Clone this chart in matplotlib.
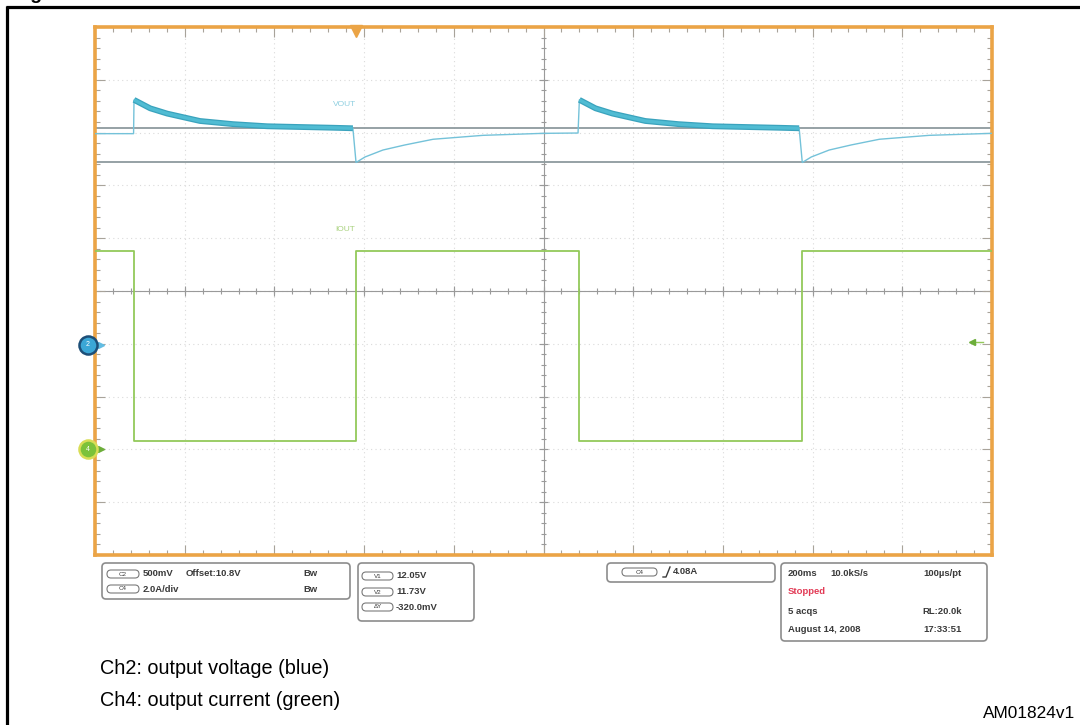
import numpy as np
import matplotlib
matplotlib.use("Agg")
from matplotlib import pyplot as plt
from matplotlib import font_manager
from matplotlib.patches import FancyBboxPatch
from matplotlib.ticker import MultipleLocator


def pick_font(names):
    for n in names:
        try:
            font_manager.findfont(n, fallback_to_default=False)
            return n
        except Exception:
            pass
    return "DejaVu Sans"


SANS = pick_font(["Liberation Sans", "Arial", "DejaVu Sans"])

# scope settings
T_DIV = 200.0            # ms/div
CH2_VDIV = 0.5           # V/div
CH2_CENTER = 10.51       # V at screen centre
CH2_MARKER = 10.0        # V, channel 2 position marker
CH4_ADIV = 2.0           # A/div
CH4_CENTER = 6.0         # A at screen centre
CH4_MARKER = 0.0         # A, channel 4 ground marker
TRIG_LEVEL = 4.08        # A
TRIG_TIME = 582          # ms from left edge
CURSOR_V1 = 12.05
CURSOR_V2 = 11.73

# Ch2 output voltage (ms, V)
vout_t = [0, 86,
          87, 123, 161, 234, 308, 384, 531, 575,
          582, 602, 642, 691, 754, 865, 999, 1077,
          1080, 1116, 1154, 1227, 1301, 1377, 1524, 1570,
          1577, 1597, 1637, 1686, 1749, 1860, 2000]
vout_v = [12.00, 12.00,
          12.32, 12.24, 12.19, 12.12, 12.09, 12.07, 12.056, 12.051,
          11.727, 11.779, 11.845, 11.893, 11.947, 11.984, 12.003, 12.006,
          12.32, 12.24, 12.19, 12.12, 12.09, 12.07, 12.056, 12.051,
          11.727, 11.779, 11.845, 11.893, 11.947, 11.984, 12.003]
# noisy (thick) part of the trace: after the load is released
thick_spans = [(87, 575), (1080, 1570)]

# Ch4 output current (ms, A)
iout_t = [0, 87, 87, 582, 582, 1079, 1079, 1577, 1577, 2000]
iout_a = [7.5, 7.5, 0.3, 0.3, 7.5, 7.5, 0.3, 0.3, 7.5, 7.5]

BLUE = "#50bcd3"
BLUE_EDGE = "#3aa3bd"
BLUE_THIN = "#74c2d9"
GREEN = "#93c95a"
ORANGE = "#eba446"
GREY = "#8e9a9e"
TXT = "#3a3a3a"

fig = plt.figure(figsize=(10.8, 7.25), dpi=100)
W, H = 1080.0, 725.0

ax = fig.add_axes([95 / W, 1 - 555 / H, (992 - 95) / W, (555 - 27) / H])
ax.set_xlim(0, 10 * T_DIV)
ax.set_ylim(-5, 5)

vdiv = (np.array(vout_v) - CH2_CENTER) / CH2_VDIV
idiv = (np.array(iout_a) - CH4_CENTER) / CH4_ADIV
vt = np.array(vout_t)

# graticule
for xg in np.arange(1, 10) * T_DIV:
    ax.axvline(xg, color="#dadada", lw=0.8, ls=(0, (1, 3)), zorder=1)
for yg in range(-4, 5):
    ax.axhline(yg, color="#dadada", lw=0.8, ls=(0, (1, 3)), zorder=1)
ax.axvline(5 * T_DIV, color="#9a9a9a", lw=0.8, zorder=1)
ax.axhline(0, color="#9a9a9a", lw=0.8, zorder=1)
minor_x = np.arange(0, 10 * T_DIV + 1, T_DIV / 5)
minor_y = np.arange(-5, 5.01, 0.2)
ax.vlines(minor_x, -0.05, 0.05, color="#9a9a9a", lw=0.8, zorder=1)
ax.vlines(np.arange(0, 10 * T_DIV + 1, T_DIV), -0.1, 0.1, color="#9a9a9a", lw=0.8, zorder=1)
ax.hlines(minor_y, 5 * T_DIV - 6, 5 * T_DIV + 6, color="#9a9a9a", lw=0.8, zorder=1)
ax.hlines(np.arange(-5, 6), 5 * T_DIV - 11, 5 * T_DIV + 11, color="#9a9a9a", lw=0.8, zorder=1)

# cursors
for cv in (CURSOR_V1, CURSOR_V2):
    ax.axhline((cv - CH2_CENTER) / CH2_VDIV, color=GREY, lw=1.3, zorder=2)

# traces
ax.plot(iout_t, idiv, color=GREEN, lw=1.3, zorder=3)
ax.plot(vt, vdiv, color=BLUE_THIN, lw=1.0, zorder=4)
for a, b in thick_spans:
    m = (vt >= a) & (vt <= b)
    ax.plot(vt[m], vdiv[m], color=BLUE_EDGE, lw=4.2, solid_capstyle="butt", zorder=5)
    ax.plot(vt[m], vdiv[m], color=BLUE, lw=2.4, solid_capstyle="butt", zorder=6)

ax.text(557, 3.54, "VOUT", color="#8fcfe0", fontsize=6, family=SANS,
        ha="center", va="center")
ax.text(557, 1.16, "IOUT", color="#a9d27f", fontsize=6, family=SANS,
        ha="center", va="center")

# border and edge ticks
for s in ax.spines.values():
    s.set_color(ORANGE)
    s.set_linewidth(2.6)
ax.xaxis.set_major_locator(MultipleLocator(T_DIV))
ax.xaxis.set_minor_locator(MultipleLocator(T_DIV / 5))
ax.yaxis.set_major_locator(MultipleLocator(1))
ax.yaxis.set_minor_locator(MultipleLocator(0.2))
ax.tick_params(which="both", direction="in", top=True, right=True,
               labelbottom=False, labelleft=False, color="#a8a39a", width=0.8)
ax.tick_params(which="major", length=7)
ax.tick_params(which="minor", length=3.5)

# channel markers and trigger indicators
yt = ax.get_yaxis_transform()
m2 = (CH2_MARKER - CH2_CENTER) / CH2_VDIV
m4 = (CH4_MARKER - CH4_CENTER) / CH4_ADIV
ax.plot([0.007], [m2], marker=">", ms=5, color="#62bde3", transform=yt, clip_on=False, zorder=8)
ax.plot([-0.008], [m2], marker="o", ms=13, mfc="#3ba7d6", mec="#1d4f78", mew=1.8,
        transform=yt, clip_on=False, zorder=9)
ax.text(-0.008, m2, "2", color="white", fontsize=5, ha="center", va="center",
        transform=yt, zorder=10, family=SANS)
ax.plot([0.007], [m4], marker=">", ms=5, color="#6cae3a", transform=yt, clip_on=False, zorder=8)
ax.plot([-0.008], [m4], marker="o", ms=13, mfc="#7cc23a", mec="#d8dd55", mew=1.8,
        transform=yt, clip_on=False, zorder=9)
ax.text(-0.008, m4, "4", color="white", fontsize=5, ha="center", va="center",
        transform=yt, zorder=10, family=SANS)
xt = ax.get_xaxis_transform()
ax.plot([TRIG_TIME], [0.992], marker="v", ms=8, color=ORANGE, transform=xt,
        clip_on=False, zorder=9)
tl = (TRIG_LEVEL - CH4_CENTER) / CH4_ADIV
ax.plot([0.978, 0.99], [tl, tl], color=GREEN, lw=1, transform=yt, zorder=8)
ax.plot([0.978], [tl], marker="<", ms=5, color="#6cae3a", transform=yt, zorder=9)

# overlay in pixel units for the page furniture
ov = fig.add_axes([0, 0, 1, 1])
ov.set_xlim(0, W)
ov.set_ylim(H, 0)
ov.axis("off")
ov.patch.set_visible(False)

ov.plot([6.5, 6.5], [6, H], color="black", lw=2.3, solid_capstyle="butt")
ov.plot([5.5, W], [6.5, 6.5], color="black", lw=2.3, solid_capstyle="butt")
# title above the page edge, only the descender of the g shows
ov.text(14, -1.5, "Figure", fontsize=14, weight="bold", family=SANS,
        ha="left", va="baseline")


def box(x0, y0, x1, y1):
    ov.add_patch(FancyBboxPatch((x0, y0), x1 - x0, y1 - y0,
                                boxstyle="round,pad=0,rounding_size=4",
                                fc="white", ec="#8c8c8c", lw=1.2))


def pill(x0, x1, yc, label):
    ov.add_patch(FancyBboxPatch((x0, yc - 4), x1 - x0, 8,
                                boxstyle="round,pad=0,rounding_size=4",
                                fc="white", ec="#7a7a7a", lw=0.8))
    ov.text((x0 + x1) / 2, yc, label, fontsize=4.5, color=TXT, family=SANS,
            ha="center", va="center")


def label(x, y, s, ha="left", color=TXT):
    ov.text(x, y, s, fontsize=6.8, weight="bold", color=color, family=SANS,
            ha=ha, va="center")


box(102, 563, 350, 599)
pill(107, 139, 574, "C2")
label(143, 574, "500mV")
label(186, 574, "Offset:10.8V")
label(303, 574, "Bw")
pill(107, 139, 589, "C4")
label(143, 589, "2.0A/div")
label(303, 589, "Bw")

box(358, 563, 474, 621)
pill(362, 393, 576, "V1")
label(396, 576, "12.05V")
pill(362, 393, 592, "V2")
label(396, 592, "11.73V")
pill(362, 393, 607, "ΔY")
label(396, 607, "-320.0mV")

box(607, 563, 775, 582)
pill(622, 657, 572, "C4")
ov.plot([663, 666, 670], [577, 577, 567], color=TXT, lw=1)
label(673, 572, "4.08A")

box(781, 563, 987, 641)
label(788, 573, "200ms")
label(830, 573, "10.0kS/s")
label(962, 573, "100µs/pt", ha="right")
label(788, 592, "Stopped", color="#e23a55")
label(788, 611, "5 acqs")
label(962, 611, "RL:20.0k", ha="right")
label(788, 629, "August 14, 2008")
label(962, 629, "17:33:51", ha="right")

ov.text(100, 669, "Ch2: output voltage (blue)", fontsize=14.3, family=SANS,
        ha="left", va="center")
ov.text(100, 700, "Ch4: output current (green)", fontsize=14.3, family=SANS,
        ha="left", va="center")
ov.text(1075, 713, "AM01824v1", fontsize=12.4, family=SANS,
        ha="right", va="center")

fig.savefig("out.png", dpi=100)
